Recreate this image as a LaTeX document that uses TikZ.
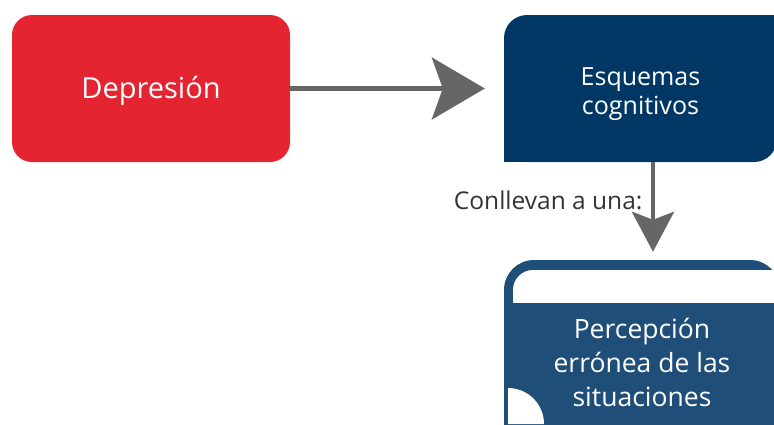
\documentclass[tikz,border=0pt]{standalone}
\usepackage{fontspec}
\setmainfont{Open Sans}
\usetikzlibrary{arrows.meta, positioning}

\definecolor{deprered}{RGB}{228,36,49}
\definecolor{esqblue}{RGB}{0,55,100}
\definecolor{percblue}{RGB}{31,78,121}
\definecolor{arrowgray}{RGB}{102,102,102}
\definecolor{labelgray}{RGB}{51,51,51}

\begin{document}
\begin{tikzpicture}[
    x=1pt, y=-1pt,
    block/.style={rectangle, inner sep=0pt},
    blocktext/.style={text=white, align=center, inner sep=0pt},
    line/.style={draw=arrowgray, line width=4.5pt},
    bigtip/.style={-{Stealth[length=53pt, width=62pt, inset=11pt]}},
    smalltip/.style={-{Stealth[length=40pt, width=42pt, inset=8pt]}}
]
\useasboundingbox (0,0) rectangle (774,424);

% boxes
\node [block, fill=deprered, rounded corners=20pt, minimum width=278pt, minimum height=147pt] (depresion) at (151,88.5) {};
\node [block, fill=esqblue, rounded corners=23pt, minimum width=273pt, minimum height=147pt] (esquemas) at (640.5,88.5) {};
\fill [esqblue] ([yshift=40pt]esquemas.south west) rectangle ([xshift=40pt]esquemas.south west);
\fill [esqblue] ([xshift=-40pt]esquemas.north east) rectangle ([yshift=-40pt]esquemas.north east);
\node [block, fill=percblue, rounded corners=30pt, minimum width=276pt, minimum height=204pt] (percepcion) at (642,362) {};
\fill [white, rounded corners=20pt] (513,270) rectangle (790,320);
\fill [percblue] (513,303) rectangle (790,330);
\fill [white] (508,424) -- ++(0,-36) arc[start angle=90, end angle=0, radius=36pt] -- cycle;

% texts
\node [blocktext, font=\fontsize{29}{34}\selectfont] (depresiontxt) at ([yshift=-2pt]depresion.center) {Depresión};
\node [blocktext, font=\fontsize{25}{29}\selectfont] (esquemastxt) at ([yshift=-6pt]esquemas.center) {Esquemas\\cognitivos};
\node [blocktext, font=\fontsize{26.5}{34}\selectfont] (percepciontxt) at (percepcion.center) {Percepción\\errónea de las\\situaciones};

% arrows
\path [line, bigtip, shorten >=19pt] (depresion.east) -- (depresion.east -| esquemas.west);
\path [line, smalltip, shorten >=8pt] ([xshift=12.5pt]esquemas.south) -- ([xshift=12.5pt]esquemas.south |- percepcion.north)
    node [pos=0.39, left=5pt, text=labelgray, font=\fontsize{24.5}{28}\selectfont] (conllevan) {Conllevan a una:};

\end{tikzpicture}
\end{document}
